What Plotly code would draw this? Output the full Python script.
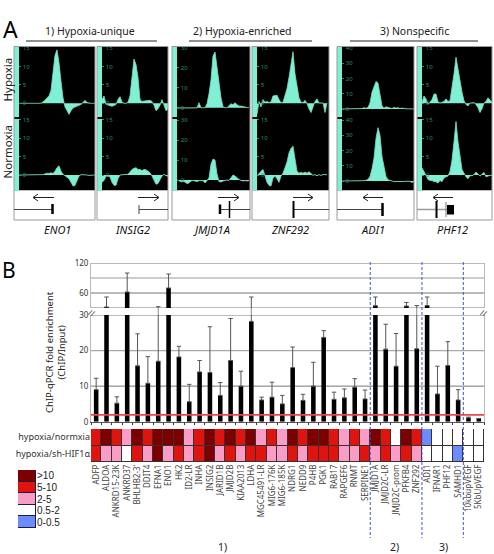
import plotly.graph_objects as go

W, H = 494, 554
FONT = "Noto Sans"

# ---------- Panel A data (value every 2 px along the locus) ----------
ENO1_HYP = [0,0,0,0,0,0,0,0,0,0,0,0,.4,.8,1.5,2,3.5,8,13,14.5,11,6,1.5,-1,-2,-3,-2,-1.3,-1,-.8,-.5,-.3,.2,.8,.2,0,0,0,0]
ENO1_NOR = [0,0,0,0,0,0,0,0,0,0,0,0,.1,.3,.5,.4,.6,.4,1,2,2.5,1,.2,-.2,-.5,-1,-2,-3,-2.8,-1.5,-.3,.1,.1,.2,0,-.1,0,0,0]
INSIG2_HYP = [1,2,-.3,-.5,-.5,-.8,-.6,-.3,1,1.8,.3,0,0,.3,2,7,12,10.5,7,1,.5,.6,.7,.9,.8,.5,-.5,-2,-1.5,-.5,1,-.5,-2,-1.5]
INSIG2_NOR = [-2,-1.5,-.3,-.3,-.5,-2,-2.8,-2.8,-1,0,.1,.1,.1,.2,.8,1.5,1.8,2,1.5,1.5,1.2,1.5,1.4,1,.6,-.3,-1.5,-2.5,-2.3,-1.2,-.3,.2,-.2,-.3]
JMJD1A_HYP = [-.2,-.2,-.2,-.3,-.3,-.2,-.3,-.2,-.2,-.1,-.1,2.5,0,0,0,2,7,14,26,28,20,12,5,.5,0,0,1,2,1.5,2.5,1.5,.8,.8,.5,.3,.1,0]
JMJD1A_NOR = [0,-.3,-1,-.8,-1,-1.8,-1.5,-.5,-.2,-.4,-.8,-.3,-.2,-.3,-1.5,-.5,1,8,10.5,10,3,-.8,-1,-.5,-.1,0,-.2,1,2.5,2,1,.3,-.2,-.5,-.3,-.5,-.3]
ZNF292_HYP = [-3,.5,-1,1,.3,.5,.2,.4,2,2,2.2,1,.2,.3,2,4,7,10,14,8,5,1.5,.3,.2,.8,-.1,-1.5,-2.5,-1,.5,1.2,.1,.1,.1,-2.5,.1]
ZNF292_NOR = [-.3,.5,1,1.5,-.2,-2,-2.8,-3,-.8,-.3,-1,-2,-.3,.5,2,3.5,6,7.2,7.8,4,1,.5,.7,.5,.8,.5,.9,.4,-.1,.1,-.2,.1,-.1,.1,.1,.1]
ADI1_HYP = [0,0,0,0,0,0,0,0,0,0,.3,.8,.5,1,4,11,15,18,17,10,2,.5,1.5,1,.4,.3,1,.6,.8,.3,.6,.1,.1,.1,0,.1,0,0,0]
ADI1_NOR = [0,0,0,0,0,0,0,0,0,0,0,.2,.5,1,3,8,15,28,35,30,16,8,3,.8,.3,-.2,-.4,-.3,-.4,-.2,-.4,-.2,-.3,-.4,-.2,-1,0,0,0]
PHF12_HYP = [.2,2,1.2,-.2,.3,1,2.5,2.5,.4,.1,.3,.5,1.2,.5,.7,4,8,12.5,9,6,3,.7,-.3,-.7,.1,.1,.2,-.3,-1.2,-2.5,-1.5,.1,.5,1.5,1,.3]
PHF12_NOR = [2,.8,-.2,-1.2,-1.5,-1.5,-1.8,-1.8,-2.2,-1.5,-1.8,-.8,-.5,-.3,1,4,9,14.5,9,5,1.5,.5,-.5,-1,-.2,-.2,.1,.8,.2,-.3,.2,.7,-.5,-.2,-.1,-.1]
GENES_A = ["ENO1", "INSIG2", "JMJD1A", "ZNF292", "ADI1", "PHF12"]
SCALE_MAX = [15, 15, 30, 15, 40, 15]

# ---------- Panel B data ----------
GENES_B = ["ADFP","ALDOA","ANKRD15-23K","ANKRD37","BHLHB2-3'","DDIT4","EFNA1","ENO1","HK2","ID2-LR","INHA","INSIG2",
           "JARID1B","JMJD2B","KIAA2013","LDHA","MGC45491-LR","MIG6-176K","MIG6-185K","NDRG1","NEDD9","P4HB","PGK1",
           "RAB17","RAPGEF6","RNMT","SERPINE1","JMJD1A","JMJD2C-LR","JMJD2C-prom","PFKFB4","ZNF292","ADI1","IFNAR1",
           "PHF12","SAMHD1","10kbupVEGF","5KbUpVEGF"]
FOLD = [9,32,5.2,62,15.7,10.8,17,70,18.2,5.6,14,13.8,7.4,17.2,10,28.2,6.1,6.9,5,15.2,6,10,23.7,6.3,6.7,9.7,6.4,
        34.6,20.4,15.6,34,20.5,35,7.8,15.8,6.1,1.1,0.9]
FOLD_TOP = [12.2,52,7,100,24.7,18.3,32.6,98,21.2,10.5,17.2,26.7,11,29,14.2,52,6.9,11.1,7.4,21,7.7,16.7,25.6,8.3,9.2,12.1,8.9,
            52,27.4,24.8,41,35,52,15.6,22.5,9,1.3,0.9]
THRESHOLD = 1.9
# heat classes: 0 = 0-0.5, 1 = 0.5-2, 2 = 2-5, 3 = 5-10, 4 = >10
HYP_NORM = [3,4,3,2,4,3,4,4,4,2,3,4,3,4,3,4,2,3,2,4,3,4,4,3,2,3,2,4,3,1,4,3,0,1,1,1,1,1]
HYP_SH = [3,2,2,1,3,2,4,2,3,2,3,4,2,3,2,3,3,2,2,3,2,3,3,3,2,2,3,2,3,2,3,2,1,1,1,0,1,1]
ROW_NAMES = ["hypoxia/normxia", "hypoxia/sh-HIF1α"]
LEGEND_NAMES = [">10", "5-10", "2-5", "0.5-2", "0-0.5"]
LEGEND_CLASS = [4, 3, 2, 1, 0]
CLASS_COLORS = ["#6a8cff", "#ffffff", "#f99cc6", "#e0140e", "#7c0000"]

TURQ = "#80f0d4"
GREEN = "#2c8f74"


def px(x): return x / W
def py(y): return 1 - y / H


fig = go.Figure()
layout = {}
shapes = []
ann = []


def rect(x0, y0, x1, y1, fill=None, line=None, lw=1, layer="below"):
    shapes.append(dict(type="rect", xref="paper", yref="paper", x0=px(x0), x1=px(x1), y0=py(y0), y1=py(y1),
                       fillcolor=fill or "rgba(0,0,0,0)", line=dict(color=line or "rgba(0,0,0,0)", width=lw if line else 0),
                       layer=layer))


def seg(x0, y0, x1, y1, color="#222", lw=1, layer="above", dash=None):
    shapes.append(dict(type="line", xref="paper", yref="paper", x0=px(x0), x1=px(x1), y0=py(y0), y1=py(y1),
                       line=dict(color=color, width=lw, dash=dash or "solid"), layer=layer))


def text(x, y, s, size=10, color="#222", angle=0, xa="center", italic=False):
    ann.append(dict(x=px(x), y=py(y), xref="paper", yref="paper", text=s, showarrow=False, xanchor=xa, yanchor="middle",
                    textangle=angle, align="center",
                    font=dict(family=FONT, size=size, color=color, style="italic" if italic else "normal")))


axis_n = [0]


def new_axes(xd, yd, xkw, ykw):
    axis_n[0] += 1
    n = axis_n[0]
    sx = "" if n == 1 else str(n)
    layout["xaxis" + sx] = dict(domain=[px(xd[0]), px(xd[1])], anchor="y" + sx, **xkw)
    layout["yaxis" + sx] = dict(domain=[py(yd[1]), py(yd[0])], anchor="x" + sx, **ykw)
    return "x" + sx, "y" + sx


# ---------- Panel A ----------
PANELS = [(14, 95), (97, 168), (172, 250), (252, 329), (337, 414), (417, 492)]
ZEROS = [(103.3, 175), (103.3, 175), (107.7, 180), (103.3, 175), (109, 181), (103.3, 175)]
PROFILES = [(ENO1_HYP, ENO1_NOR), (INSIG2_HYP, INSIG2_NOR), (JMJD1A_HYP, JMJD1A_NOR),
            (ZNF292_HYP, ZNF292_NOR), (ADI1_HYP, ADI1_NOR), (PHF12_HYP, PHF12_NOR)]
LABEL_X = [57, 132, 211, 290, 373, 452]
TOP, MID, BOT, BOXB = 47, 118, 190.5, 220

for i, gene in enumerate(GENES_A):
    x0, x1 = PANELS[i]
    rect(x0, TOP, x1, BOT, fill="#000000")
    rect(x0, BOT, x1, BOXB, fill="#ffffff")
    rect(x0, TOP, x0 + 5, BOT, fill=TURQ, layer="above")
    rect(x0, MID - 1, x0 + 5, MID + 1, fill="#000000", layer="above")
    rect(x0, TOP - .5, x1, BOXB, line="#9a9a9a", lw=1, layer="above")
    text(LABEL_X[i], 229, gene, size=11, italic=True, color="#111")
    smax = SCALE_MAX[i]
    pxu = (103.3 - 48) / 15 if smax == 15 else ((107.7 - 48) / 30 if smax == 30 else (109 - 48) / 40)
    for (yd, z, vals) in (((TOP, MID), ZEROS[i][0], PROFILES[i][0]), ((MID, BOT), ZEROS[i][1], PROFILES[i][1])):
        ax, ay = new_axes((x0 + 5, x1), yd,
                          dict(range=[0, (x1 - x0 - 5)], visible=False),
                          dict(range=[(z - yd[1]) / pxu, (z - yd[0]) / pxu], showgrid=False, zeroline=False,
                               tickmode="linear", tick0=0, dtick=smax / 3 if smax == 15 else 10,
                               ticks="inside", ticklen=2, tickcolor=GREEN, tickwidth=1, layer="above traces",
                               ticklabelposition="inside", ticklabeloverflow="allow",
                               tickfont=dict(family=FONT, size=6, color=GREEN)))
        fig.add_trace(go.Scatter(x=[2 * k for k in range(len(vals))], y=vals, xaxis=ax, yaxis=ay, mode="lines",
                                 fill="tozeroy", fillcolor=TURQ, line=dict(color="#7fdcc4", width=0.8),
                                 hoverinfo="skip", showlegend=False))


def arrow(x0, x1, y, head):
    hx = x0 if head == "left" else x1
    d = 5 if head == "left" else -5
    seg(x0, y, x1, y, lw=1)
    seg(hx, y, hx + d, y - 3.5, lw=1)
    seg(hx, y, hx + d, y + 3.5, lw=1)


arrow(33, 54, 197.5, "left")
seg(14, 209.5, 52, 209.5, "#444"); seg(52.5, 204, 52.5, 214, "#000", 2.5)
arrow(138, 159, 197.5, "right")
seg(139, 209.5, 168, 209.5, "#444"); seg(139, 205, 139, 214, "#444")
arrow(218, 239, 197.5, "right")
seg(220, 209.5, 250, 209.5, "#444"); seg(220, 204.5, 220, 214, "#000", 2.5); seg(229.5, 201, 229.5, 218, "#000", 1.5)
arrow(293, 313, 197.5, "right")
seg(293, 209.5, 329, 209.5, "#444"); seg(293.5, 201, 293.5, 218, "#000", 2)
arrow(363, 383, 197.5, "left")
seg(337, 209.5, 382, 209.5, "#444"); seg(382.5, 203, 382.5, 216, "#000", 2.5)
arrow(433, 453, 197.5, "left")
seg(417, 209.5, 448, 209.5, "#999", 1.5); seg(436.5, 201, 436.5, 218, "#000", 2); seg(446, 202, 446, 217, "#777", 1)
rect(447, 205, 454, 214.5, fill="#000000", layer="above")

text(90, 30.5, "1) Hypoxia-unique", size=10.5)
text(242, 30.5, "2) Hypoxia-enriched", size=10.5)
text(414, 30.5, "3) Nonspecific", size=10.5)
seg(26, 41, 157, 41, "#222", 1); seg(189, 41, 312, 41, "#222", 1); seg(350, 41, 478, 41, "#222", 1)
text(6.5, 80, "Hypoxia", size=11.5, angle=-90)
text(6.5, 152, "Normoxia", size=11.5, angle=-90)
text(10, 29, "A", size=23, color="#000")
text(9, 269.5, "B", size=21, color="#000")

# ---------- Panel B bars ----------
N = len(GENES_B)
XR = [-0.5, N - 0.5]
XL, XRT = 91, 484
idx = list(range(N))
err_up = [t - v for t, v in zip(FOLD_TOP, FOLD)]

up_x, up_y = new_axes((XL, XRT), (263, 308), dict(range=XR, visible=False),
                      dict(range=[30, 120], tickvals=[60, 120], showgrid=False, zeroline=False, showline=True, mirror=True,
                           linecolor="#b8b8b8", linewidth=1, ticks="", tickfont=dict(family=FONT, size=8, color="#333")))
lo_x, lo_y = new_axes((XL, XRT), (315, 421.7),
                      dict(range=XR, tickmode="linear", tick0=-0.5, dtick=1, ticks="outside", ticklen=2, tickcolor="#333",
                           showticklabels=False, showgrid=False, zeroline=False, showline=True, linecolor="#555", linewidth=1),
                      dict(range=[0, 30], tickvals=[0, 10, 20, 30], showgrid=False, zeroline=False, showline=True, mirror=True,
                           linecolor="#b8b8b8", linewidth=1, ticks="", tickfont=dict(family=FONT, size=8, color="#333")))

GRID = [(up_y, 120, "#777777", 1), (up_y, 90, "#bdbdbd", 1.5), (up_y, 60, "#777777", 1), (up_y, 30, "#777777", 1),
        (lo_y, 30, "#777777", 1), (lo_y, 20, "#a8a8a8", 1.2), (lo_y, 10, "#777777", 1)]
for yr, v, c, w in GRID:
    xr = up_x if yr == up_y else lo_x
    shapes.append(dict(type="line", xref=xr, yref=yr, x0=XR[0], x1=XR[1], y0=v, y1=v, line=dict(color=c, width=w), layer="below"))

for ax, ay in ((up_x, up_y), (lo_x, lo_y)):
    fig.add_trace(go.Bar(x=idx, y=FOLD, width=0.44, marker=dict(color="#000000", line=dict(width=0)), xaxis=ax, yaxis=ay,
                         error_y=dict(type="data", symmetric=False, array=err_up, arrayminus=[0] * N, color="#555555",
                                      thickness=1, width=2.2),
                         hoverinfo="skip", showlegend=False))

# error whiskers that cross the axis break
for i in idx:
    if FOLD[i] <= 30 < FOLD_TOP[i]:
        shapes.append(dict(type="line", xref=lo_x, yref="paper", x0=i, x1=i, y0=py(308), y1=py(315),
                           line=dict(color="#888888", width=1), layer="above"))

fig.add_trace(go.Scatter(x=XR, y=[THRESHOLD, THRESHOLD], xaxis=lo_x, yaxis=lo_y, mode="lines",
                         line=dict(color="#e8494a", width=1.8), hoverinfo="skip", showlegend=False))

for cx in (26.5, 31.5, 35.5):
    shapes.append(dict(type="line", xref=lo_x, yref="paper", x0=cx, x1=cx, y0=py(262), y1=py(538),
                       line=dict(color="#3f55c8", width=1, dash="3px,2px"), layer="above"))

text(92, 312, "//", size=8, angle=20, color="#333")
text(484, 312, "//", size=8, angle=20, color="#333")
text(55, 352, "ChIP-qPCR fold enrichment<br>(ChIP/Input)", size=9.5, angle=-90, color="#222")

# ---------- Heat map ----------
disc = []
for k, c in enumerate(CLASS_COLORS):
    disc += [[k / 5, c], [(k + 1) / 5, c]]

rect(XL, 429, XRT, 462, fill="#3a3030")
hx, hy = new_axes((XL, XRT), (429, 462),
                  dict(range=XR, tickvals=idx, ticktext=GENES_B, tickangle=-90, ticks="", showgrid=False, zeroline=False,
                       tickfont=dict(family=FONT, size=8, color="#444")),
                  dict(range=[1.5, -0.5], tickvals=[0, 1], ticktext=ROW_NAMES, ticks="", showgrid=False, zeroline=False,
                       tickfont=dict(family=FONT, size=9, color="#333")))
fig.add_trace(go.Heatmap(z=[[c + 0.5 for c in HYP_NORM], [c + 0.5 for c in HYP_SH]], x=idx, y=[0, 1], zmin=0, zmax=5,
                         colorscale=disc, showscale=False, xgap=1, ygap=1, xaxis=hx, yaxis=hy, hoverinfo="skip"))

rect(18, 470, 36, 528, fill="#1c1c40")
gx, gy = new_axes((18, 36), (470, 528),
                  dict(range=[-0.5, 0.5], visible=False),
                  dict(range=[4.5, -0.5], side="right", tickvals=list(range(5)), ticktext=LEGEND_NAMES, ticks="",
                       showgrid=False, zeroline=False, tickfont=dict(family="Liberation Sans", size=10, color="#222")))
fig.add_trace(go.Heatmap(z=[[c + 0.5] for c in LEGEND_CLASS], x=[0], y=list(range(5)), zmin=0, zmax=5, colorscale=disc,
                         showscale=False, xgap=1, ygap=1, xaxis=gx, yaxis=gy, hoverinfo="skip"))

text(222, 547, "1)", size=10.5)
text(394, 547, "2)", size=10.5)
text(443, 547, "3)", size=10.5)

fig.update_layout(width=W, height=H, margin=dict(l=0, r=0, t=0, b=0, autoexpand=False), paper_bgcolor="#ffffff",
                  plot_bgcolor="rgba(0,0,0,0)", showlegend=False, barmode="overlay", shapes=shapes, annotations=ann,
                  font=dict(family=FONT), **layout)
fig.write_html("out.html", config=dict(displayModeBar=False), post_script="document.body.style.margin='0';document.body.style.overflow='hidden';")
